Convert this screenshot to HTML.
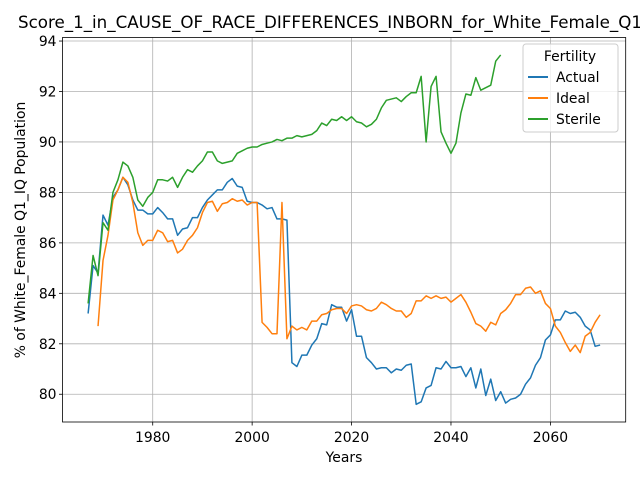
<!DOCTYPE html>
<html><head><meta charset="utf-8"><style>
body{margin:0;background:#fff}
svg{display:block;font-family:"DejaVu Sans","Liberation Sans",sans-serif}
</style></head><body>
<svg id="chart" width="640" height="480" viewBox="0 0 640 480" xmlns="http://www.w3.org/2000/svg">
<rect width="640" height="480" fill="#fff"/>
<text x="330" y="28" font-size="16.7" text-anchor="middle">Score_1_in_CAUSE_OF_RACE_DIFFERENCES_INBORN_for_White_Female_Q1</text>
<g id="grid"></g><g id="series"></g><g id="axes"></g>
<text x="344" y="462" font-size="13.9" text-anchor="middle">Years</text>
<text transform="translate(25,230) rotate(-90)" font-size="13.9" text-anchor="middle">% of White_Female Q1_IQ Population</text>
<g>
<rect x="523" y="44" width="95" height="88" rx="3" fill="#fff" fill-opacity="0.8" stroke="#ccc"/>
<text x="570" y="61" font-size="13.9" text-anchor="middle">Fertility</text>
<g><line x1="528" y1="77" x2="548" y2="77" stroke="#1f77b4" stroke-width="2"/><text x="556" y="82" font-size="13.9">Actual</text></g>
<g><line x1="528" y1="98" x2="548" y2="98" stroke="#ff7f0e" stroke-width="2"/><text x="556" y="103" font-size="13.9">Ideal</text></g>
<g><line x1="528" y1="119" x2="548" y2="119" stroke="#2ca02c" stroke-width="2"/><text x="556" y="124" font-size="13.9">Sterile</text></g>
</g>
</svg>
<script>
const actualStart = 1967;
const actualValues = [83.2,85.1,84.8,87.1,86.7,87.8,88.1,88.6,88.3,87.7,87.3,87.3,87.15,87.15,87.4,87.2,86.95,86.95,86.3,86.55,86.6,87.0,87.0,87.4,87.7,87.9,88.1,88.1,88.4,88.55,88.25,88.2,87.65,87.6,87.6,87.5,87.35,87.4,86.95,86.95,86.9,81.25,81.1,81.55,81.55,81.95,82.2,82.8,82.75,83.55,83.45,83.45,82.9,83.35,82.3,82.3,81.45,81.25,81.0,81.05,81.05,80.85,81.0,80.95,81.15,81.2,79.6,79.7,80.25,80.35,81.05,81.0,81.3,81.05,81.05,81.1,80.7,81.05,80.25,81.0,79.95,80.6,79.75,80.1,79.65,79.8,79.85,80.0,80.4,80.65,81.15,81.45,82.15,82.35,82.95,82.95,83.3,83.2,83.25,83.05,82.7,82.55,81.9,81.95];
const idealStart = 1969;
const idealValues = [82.7,85.3,86.3,87.7,88.1,88.6,88.4,87.6,86.4,85.9,86.1,86.1,86.5,86.4,86.05,86.1,85.6,85.75,86.1,86.3,86.6,87.2,87.6,87.65,87.25,87.55,87.6,87.75,87.65,87.7,87.5,87.6,87.6,82.85,82.65,82.4,82.4,87.6,82.2,82.7,82.55,82.65,82.55,82.9,82.9,83.15,83.2,83.35,83.4,83.4,83.2,83.5,83.55,83.5,83.35,83.3,83.4,83.65,83.55,83.4,83.3,83.3,83.05,83.2,83.7,83.7,83.9,83.8,83.9,83.8,83.85,83.65,83.8,83.95,83.65,83.25,82.8,82.7,82.5,82.85,82.75,83.2,83.35,83.6,83.95,83.95,84.2,84.25,84.0,84.1,83.6,83.4,82.7,82.45,82.05,81.7,81.95,81.65,82.3,82.45,82.85,83.15];
const sterileStart = 1967;
const sterileValues = [83.6,85.5,84.7,86.8,86.5,88.0,88.5,89.2,89.05,88.6,87.7,87.45,87.8,88.0,88.5,88.5,88.45,88.6,88.2,88.6,88.9,88.8,89.05,89.25,89.6,89.6,89.25,89.15,89.2,89.25,89.55,89.65,89.75,89.8,89.8,89.9,89.95,90.0,90.1,90.05,90.15,90.15,90.25,90.2,90.25,90.3,90.45,90.75,90.65,90.9,90.85,91.0,90.85,91.0,90.8,90.75,90.6,90.7,90.9,91.35,91.65,91.7,91.75,91.6,91.8,91.95,91.95,92.6,90.0,92.2,92.6,90.4,89.95,89.55,89.95,91.15,91.9,91.85,92.55,92.05,92.15,92.25,93.2,93.45];
const xTicks = [1980,2000,2020,2040,2060];
const yTicks = [80,82,84,86,88,90,92,94];

const L=62.5,R=625.7,T=37.5,B=422;
const X0=1961.85,X1=2075.15,Y0=78.9,Y1=94.14;
const xs=v=>L+(v-X0)/(X1-X0)*(R-L);
const ys=v=>B-(v-Y0)/(Y1-Y0)*(B-T);
const NS="http://www.w3.org/2000/svg";
function mk(tag,attrs,parent){const e=document.createElementNS(NS,tag);for(const k in attrs)e.setAttribute(k,attrs[k]);parent.appendChild(e);return e;}
const grid=document.getElementById('grid'),axes=document.getElementById('axes'),series=document.getElementById('series');
xTicks.forEach(t=>{
  const g=mk('line',{x1:xs(t),x2:xs(t),y1:T,y2:B,stroke:'#b0b0b0','stroke-width':0.8},grid);
  
  
  mk('line',{x1:xs(t),x2:xs(t),y1:B,y2:B+3.5,stroke:'#000','stroke-width':0.8},axes);
  const tx=mk('text',{x:xs(t),y:B+20,'font-size':13.9,'text-anchor':'middle'},axes);
  tx.textContent=t;
  
  
});
yTicks.forEach(t=>{
  const g=mk('line',{x1:L,x2:R,y1:ys(t),y2:ys(t),stroke:'#b0b0b0','stroke-width':0.8},grid);
  
  
  mk('line',{x1:L-3.5,x2:L,y1:ys(t),y2:ys(t),stroke:'#000','stroke-width':0.8},axes);
  const tx=mk('text',{x:L-6,y:ys(t)+5,'font-size':13.9,'text-anchor':'end'},axes);
  tx.textContent=t;
  
  
});
const frame=mk('rect',{x:L,y:T,width:R-L,height:B-T,fill:'none',stroke:'#000','stroke-width':0.8},axes);


function line(start,vals,color,name){
  const d=vals.map((v,i)=>(i?'L':'M')+xs(start+i).toFixed(2)+','+ys(v).toFixed(2)).join('');
  const p=mk('path',{d:d,fill:'none',stroke:color,'stroke-width':1.5,'stroke-linejoin':'round'},series);
  
  
}
line(actualStart,actualValues,'#1f77b4','actual-line');
line(idealStart,idealValues,'#ff7f0e','ideal-line');
line(sterileStart,sterileValues,'#2ca02c','sterile-line');
</script>
</body></html>
